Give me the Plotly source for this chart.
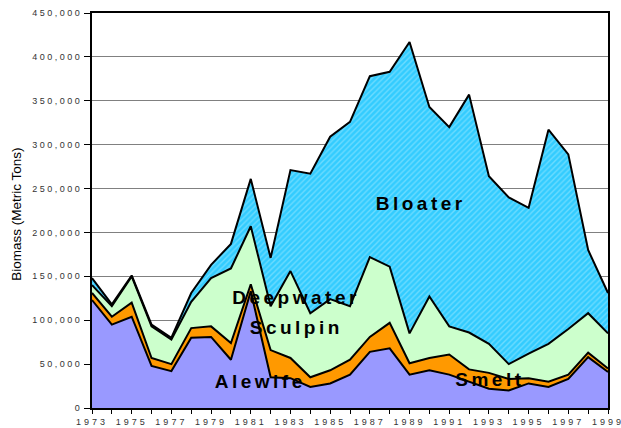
import plotly.graph_objects as go

years = list(range(1973, 2000))
# Biomass in metric tons
alewife = [123000, 95000, 104000, 48000, 42000, 80000, 81000, 55000, 133000, 35000,
           34000, 24000, 28000, 38000, 64000, 68000, 38000, 43000, 38000, 30000,
           22000, 20000, 28000, 24000, 33000, 58000, 41000]
smelt = [8000, 9000, 16000, 9000, 8000, 11000, 12000, 19000, 8000, 31000,
         23000, 11000, 15000, 17000, 17000, 29000, 13000, 14000, 23000, 14000,
         18000, 13000, 6000, 6000, 5000, 5000, 4000]
sculpin = [9000, 12000, 30000, 36000, 28000, 30000, 55000, 85000, 66000, 50000,
           99000, 73000, 81000, 61000, 91000, 64000, 34000, 70000, 32000, 42000,
           33000, 17000, 28000, 43000, 52000, 45000, 40000]
bloater = [8000, 2000, 1000, 2000, 2000, 10000, 15000, 28000, 54000, 55000,
           115000, 159000, 185000, 210000, 206000, 222000, 332000, 216000, 227000, 271000,
           191000, 190000, 166000, 244000, 199000, 72000, 46000]

y_ticks = list(range(0, 450001, 50000))
y_ticktext = [f"{v:,}" for v in y_ticks]
x_ticktext = [str(y) if (y - 1973) % 2 == 0 else "" for y in years]

fig = go.Figure()
line = dict(color="black", width=2)
fig.add_trace(go.Scatter(x=years, y=alewife, name="Alewife", stackgroup="s",
                         mode="lines", line=line, fillcolor="#9999FF"))
fig.add_trace(go.Scatter(x=years, y=smelt, name="Smelt", stackgroup="s",
                         mode="lines", line=line, fillcolor="#FF9900"))
fig.add_trace(go.Scatter(x=years, y=sculpin, name="Deepwater Sculpin", stackgroup="s",
                         mode="lines", line=line, fillcolor="#CCFFCC"))
fig.add_trace(go.Scatter(x=years, y=bloater, name="Bloater", stackgroup="s",
                         mode="lines", line=line, fillcolor="#33CCFF",
                         fillpattern=dict(shape="/", bgcolor="#33CCFF", fgcolor="#A6EBFF",
                                          size=4, solidity=0.35)))

lab_font = dict(family="Liberation Sans, Arial", size=19, color="black", weight="bold")
labels = [("Bloater", 1989.6, 233000), ("Deepwater", 1983.3, 126000),
          ("Sculpin", 1983.3, 92000), ("Alewife", 1981.5, 30000), ("Smelt", 1993.05, 32000)]
for t, x, y in labels:
    fig.add_annotation(x=x, y=y, xref="x", yref="y", text=t, showarrow=False,
                       font=lab_font, xanchor="center", yanchor="middle")

fig.add_annotation(x=-0.165, y=0.49, xref="paper", yref="paper", text="Biomass (Metric Tons)",
                   textangle=-90, showarrow=False,
                   font=dict(family="Liberation Sans, Arial", size=13.5, color="black"))

fig.update_layout(
    width=621, height=428,
    margin=dict(l=92, r=13, t=13, b=20, autoexpand=False),
    paper_bgcolor="white", plot_bgcolor="white",
    showlegend=False,
    font=dict(family="Liberation Sans, Arial", size=9, color="#333333"),
)
fig.update_xaxes(range=[1973, 1999], tickvals=years, ticktext=x_ticktext,
                 ticks="outside", ticklen=4, tickcolor="black", showgrid=False,
                 showline=True, linecolor="black", linewidth=2, mirror=True,
                 tickfont=dict(size=9, color="#333333"), zeroline=False, automargin=False)
fig.update_yaxes(range=[0, 450000], tickvals=y_ticks, ticktext=y_ticktext,
                 ticks="outside", ticklen=6, tickcolor="black",
                 showgrid=True, gridcolor="#808080", gridwidth=1,
                 showline=True, linecolor="black", linewidth=2, mirror=True,
                 tickfont=dict(size=9, color="#333333"), zeroline=False, automargin=False)

post = """
document.body.style.margin = '0';
document.body.style.overflow = 'hidden';
document.querySelectorAll('.annotation-text').forEach(function(e){
  if (e.textContent.indexOf('Biomass') < 0) { e.style.letterSpacing = '3.5px'; }
});
document.querySelectorAll('.xtick text').forEach(function(e){ e.style.letterSpacing = '3px'; });
document.querySelectorAll('.ytick text').forEach(function(e){ e.style.letterSpacing = '2.5px'; });
"""
fig.write_html("out.html", post_script=post, config={"displayModeBar": False})
